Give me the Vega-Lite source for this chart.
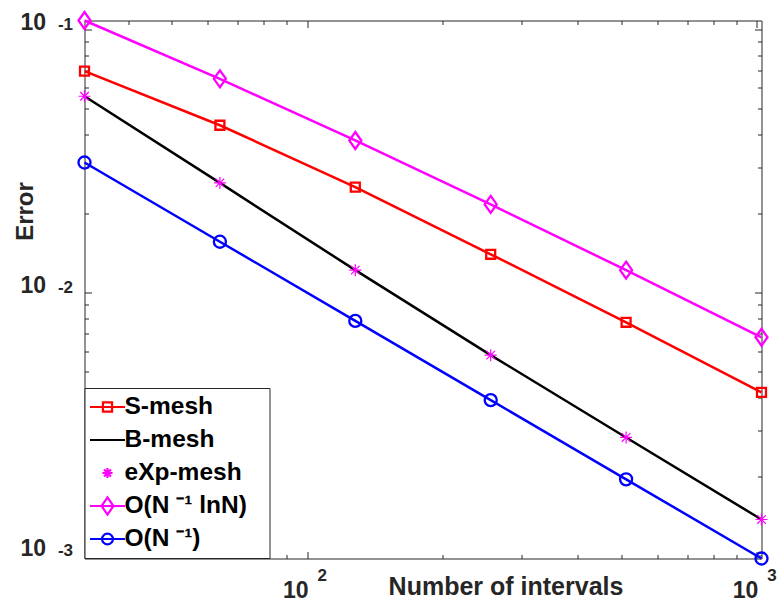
{
  "$schema": "https://vega.github.io/schema/vega-lite/v6.json",
  "width": 677,
  "height": 538,
  "autosize": "none",
  "padding": {"left": 84.5, "top": 20.5, "right": 17.5, "bottom": 45.5},
  "background": "white",
  "data": {
    "values": [
      {"N": 32, "err": 0.0695, "series": "S-mesh"},
      {"N": 64, "err": 0.0433, "series": "S-mesh"},
      {"N": 128, "err": 0.0252, "series": "S-mesh"},
      {"N": 256, "err": 0.0140, "series": "S-mesh"},
      {"N": 512, "err": 0.00772, "series": "S-mesh"},
      {"N": 1024, "err": 0.00418, "series": "S-mesh"},
      {"N": 32, "err": 0.0558, "series": "B-mesh"},
      {"N": 64, "err": 0.02614, "series": "B-mesh"},
      {"N": 128, "err": 0.01218, "series": "B-mesh"},
      {"N": 256, "err": 0.00579, "series": "B-mesh"},
      {"N": 512, "err": 0.002817, "series": "B-mesh"},
      {"N": 1024, "err": 0.001374, "series": "B-mesh"},
      {"N": 32, "err": 0.0558, "series": "eXp-mesh"},
      {"N": 64, "err": 0.02614, "series": "eXp-mesh"},
      {"N": 128, "err": 0.01218, "series": "eXp-mesh"},
      {"N": 256, "err": 0.00579, "series": "eXp-mesh"},
      {"N": 512, "err": 0.002817, "series": "eXp-mesh"},
      {"N": 1024, "err": 0.001374, "series": "eXp-mesh"},
      {"N": 32, "err": 0.1083, "series": "O(N ⁻¹ lnN)"},
      {"N": 64, "err": 0.0650, "series": "O(N ⁻¹ lnN)"},
      {"N": 128, "err": 0.0379, "series": "O(N ⁻¹ lnN)"},
      {"N": 256, "err": 0.02166, "series": "O(N ⁻¹ lnN)"},
      {"N": 512, "err": 0.01218, "series": "O(N ⁻¹ lnN)"},
      {"N": 1024, "err": 0.00677, "series": "O(N ⁻¹ lnN)"},
      {"N": 32, "err": 0.03125, "series": "O(N ⁻¹)"},
      {"N": 64, "err": 0.015625, "series": "O(N ⁻¹)"},
      {"N": 128, "err": 0.0078125, "series": "O(N ⁻¹)"},
      {"N": 256, "err": 0.00390625, "series": "O(N ⁻¹)"},
      {"N": 512, "err": 0.001953, "series": "O(N ⁻¹)"},
      {"N": 1024, "err": 0.0009766, "series": "O(N ⁻¹)"}
    ]
  },
  "config": {
    "view": {"stroke": "#262626", "strokeWidth": 1},
    "font": "Liberation Sans",
    "axis": {
      "grid": false,
      "domain": false,
      "labelFont": "Liberation Sans",
      "labelFontWeight": "bold",
      "labelColor": "#262626",
      "titleFont": "Liberation Sans",
      "titleFontWeight": "bold",
      "titleFontSize": 24,
      "titleColor": "#262626",
      "tickColor": "#262626",
      "tickWidth": 1,
      "labelFlush": false,
      "labelOverlap": false
    },
    "legend": {
      "orient": "none",
      "legendX": 0,
      "legendY": 367.5,
      "padding": 4,
      "fillColor": "white",
      "strokeColor": "#262626",
      "labelFont": "Liberation Sans",
      "labelFontWeight": "bold",
      "labelFontSize": 24.5,
      "labelColor": "#000000",
      "labelOffset": -2,
      "labelLimit": 400,
      "symbolSize": 1225,
      "symbolStrokeWidth": 2.2,
      "symbolOpacity": 1,
      "clipHeight": 30,
      "rowPadding": 3,
      "titleOrient": "right",
      "titlePadding": 0,
      "titleFontSize": 12,
      "titleFont": "DejaVu Sans",
      "titleColor": "white"
    }
  },
  "resolve": {"axis": {"x": "independent", "y": "independent"}},
  "layer": [
    {
      "transform": [{"filter": "datum.series != 'eXp-mesh'"}],
      "mark": {"type": "line", "strokeWidth": 2.5},
      "encoding": {
        "x": {
          "field": "N", "type": "quantitative",
          "scale": {"type": "log", "domain": [32, 1024], "nice": false, "zero": false},
          "axis": {
            "orient": "bottom", "values": [100, 1000], "ticks": false,
            "labelExpr": "'10'", "labelAlign": "right", "labelBaseline": "alphabetic",
            "labelPadding": 39, "labelOffset": 1, "labelFontSize": 23,
            "title": "Number of intervals", "titleX": 421, "titleY": 36, "titleFontSize": 25,
            "titleAlign": "center", "titleBaseline": "alphabetic"
          }
        },
        "y": {
          "field": "err", "type": "quantitative",
          "scale": {"type": "log", "domain": [0.0009766, 0.1083], "nice": false, "zero": false},
          "axis": {
            "orient": "left", "values": [0.001, 0.01, 0.1], "ticks": false,
            "labelExpr": "'10'", "labelAlign": "right", "labelBaseline": "alphabetic",
            "labelPadding": 39, "labelDy": 14, "labelFontSize": 23,
            "title": "Error", "titleX": -52, "titleY": 190.5, "titleAngle": 270,
            "titleAlign": "center", "titleBaseline": "alphabetic"
          }
        },
        "color": {
          "field": "series", "type": "nominal", "title": "\u2800\u2800",
          "scale": {
            "domain": ["S-mesh", "B-mesh", "eXp-mesh", "O(N ⁻¹ lnN)", "O(N ⁻¹)"],
            "range": ["#ff0000", "#000000", "#ff00ff", "#ff00ff", "#0000ff"]
          }
        }
      }
    },
    {
      "transform": [{"filter": "datum.series == 'S-mesh'"}],
      "mark": {"type": "point", "filled": false, "size": 196, "strokeWidth": 2.3, "stroke": "#ff0000", "opacity": 1,
               "shape": "M-0.64,-0.64H0.64V0.64H-0.64Z"},
      "encoding": {
        "x": {
          "field": "N", "type": "quantitative",
          "axis": {
            "orient": "bottom", "values": [40, 50, 60, 70, 80, 90, 100, 200, 300, 400, 500, 600, 700, 800, 900, 1000],
            "labels": false, "title": null,
            "tickSize": {"condition": {"test": "datum.value == 100 || datum.value == 1000", "value": -7}, "value": -4}
          }
        },
        "y": {
          "field": "err", "type": "quantitative",
          "axis": {
            "orient": "left",
            "values": [0.001, 0.002, 0.003, 0.004, 0.005, 0.006, 0.007, 0.008, 0.009, 0.01, 0.02, 0.03, 0.04, 0.05, 0.06, 0.07, 0.08, 0.09, 0.1],
            "labels": false, "title": null,
            "tickSize": {"condition": {"test": "datum.value == 0.001 || datum.value == 0.01 || datum.value == 0.1", "value": -7}, "value": -4}
          }
        }
      }
    },
    {
      "transform": [{"filter": "datum.series == 'O(N ⁻¹ lnN)'"}],
      "mark": {"type": "point", "filled": false, "size": 196, "strokeWidth": 2.3, "stroke": "#ff00ff", "opacity": 1,
               "shape": "M0,-1.21L0.86,0L0,1.21L-0.86,0Z"},
      "encoding": {
        "x": {
          "field": "N", "type": "quantitative",
          "axis": {
            "orient": "top", "values": [40, 50, 60, 70, 80, 90, 100, 200, 300, 400, 500, 600, 700, 800, 900, 1000],
            "labels": false, "title": null,
            "tickSize": {"condition": {"test": "datum.value == 100 || datum.value == 1000", "value": -7}, "value": -4}
          }
        },
        "y": {
          "field": "err", "type": "quantitative",
          "axis": {
            "orient": "right",
            "values": [0.001, 0.002, 0.003, 0.004, 0.005, 0.006, 0.007, 0.008, 0.009, 0.01, 0.02, 0.03, 0.04, 0.05, 0.06, 0.07, 0.08, 0.09, 0.1],
            "labels": false, "title": null,
            "tickSize": {"condition": {"test": "datum.value == 0.001 || datum.value == 0.01 || datum.value == 0.1", "value": -7}, "value": -4}
          }
        }
      }
    },
    {
      "transform": [{"filter": "datum.series == 'O(N ⁻¹)'"}],
      "mark": {"type": "point", "filled": false, "size": 196, "strokeWidth": 2.3, "stroke": "#0000ff", "opacity": 1,
               "shape": "M0.86,0A0.86,0.86,0,1,1,-0.86,0A0.86,0.86,0,1,1,0.86,0Z"},
      "encoding": {
        "x": {"field": "N", "type": "quantitative", "axis": null},
        "y": {"field": "err", "type": "quantitative", "axis": null}
      }
    },
    {
      "transform": [{"filter": "datum.series == 'eXp-mesh'"}],
      "mark": {"type": "point", "filled": false, "size": 225, "strokeWidth": 1.2, "stroke": "#ff00ff", "opacity": 1,
               "shape": "M0,-0.8V0.8M-0.8,0H0.8M-0.57,-0.57L0.57,0.57M-0.57,0.57L0.57,-0.57"},
      "encoding": {
        "x": {"field": "N", "type": "quantitative", "axis": null},
        "y": {"field": "err", "type": "quantitative", "axis": null}
      }
    },
    {
      "transform": [{"filter": "false"}],
      "mark": {"type": "point", "filled": false, "size": 1225, "strokeWidth": 2.2, "opacity": 1},
      "encoding": {
        "x": {
          "field": "N", "type": "quantitative",
          "axis": {
            "orient": "bottom", "values": [100, 1000], "ticks": false,
            "labelExpr": "datum.value < 500 ? '2' : '3'", "labelAlign": "left", "labelBaseline": "alphabetic",
            "labelPadding": 22, "labelOffset": 10, "labelFontSize": 17, "title": null
          }
        },
        "y": {
          "field": "err", "type": "quantitative",
          "axis": {
            "orient": "left", "values": [0.001, 0.01, 0.1], "ticks": false,
            "labelExpr": "datum.value > 0.05 ? '-1' : (datum.value > 0.005 ? '-2' : '-3')",
            "labelAlign": "right", "labelBaseline": "alphabetic",
            "labelPadding": 12, "labelFontSize": 17, "title": null
          }
        },
        "color": {"field": "series", "type": "nominal", "title": "\u2800\u2800"},
        "shape": {
          "field": "series", "type": "nominal", "title": "\u2800\u2800",
          "scale": {
            "domain": ["S-mesh", "B-mesh", "eXp-mesh", "O(N ⁻¹ lnN)", "O(N ⁻¹)"],
            "range": [
              "M-1,0H1M-0.26,-0.26H0.26V0.26H-0.26Z",
              "M-1,0H1",
              "M0,-0.29V0.29M-0.29,0H0.29M-0.2,-0.2L0.2,0.2M-0.2,0.2L0.2,-0.2",
              "M-1,0H1M0,-0.49L0.34,0L0,0.49L-0.34,0Z",
              "M-1,0H1M0.31,0A0.31,0.31,0,1,1,-0.31,0A0.31,0.31,0,1,1,0.31,0Z"
            ]
          }
        }
      }
    }
  ]
}
